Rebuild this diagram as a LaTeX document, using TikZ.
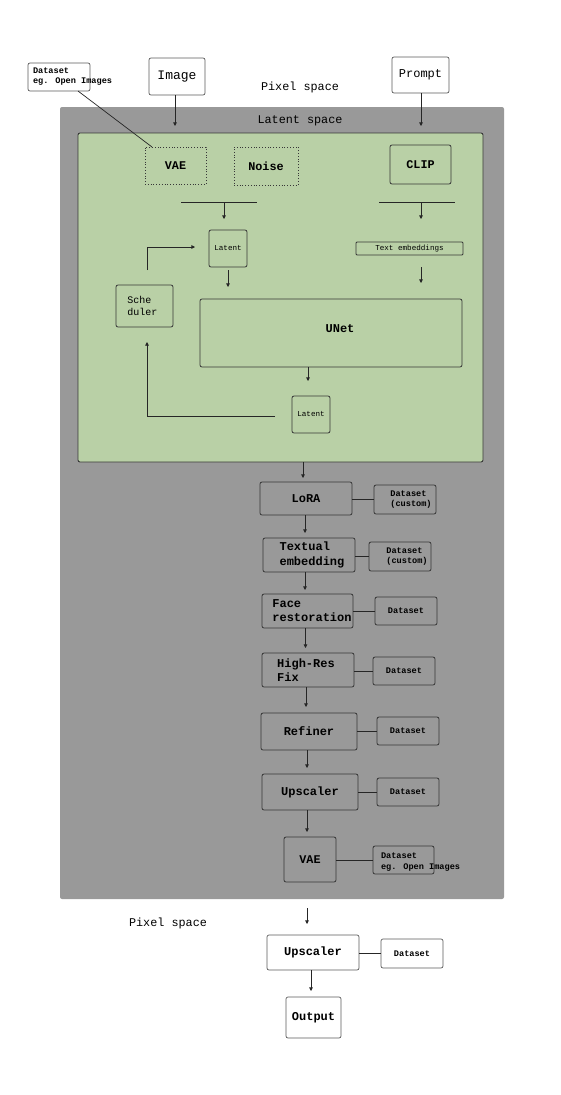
\documentclass[tikz,border=0pt]{standalone}
\usepackage{fontspec}
\setmainfont{Liberation Mono}
\usetikzlibrary{arrows.meta}
\definecolor{bggray}{RGB}{153,153,153}
\definecolor{bggreen}{RGB}{185,208,166}
\definecolor{edgedark}{RGB}{55,55,55}
\definecolor{edgelight}{RGB}{90,90,90}
\tikzset{
  x=1pt,y=-1pt,
  every node/.style={inner sep=0pt,outer sep=0pt},
  wbox/.style={draw=edgelight,fill=white,rounded corners=2pt,line width=0.7pt},
  gbox/.style={draw=edgedark,rounded corners=2pt,line width=0.8pt},
  dbox/.style={draw=edgedark,dotted,line width=0.8pt},
  big/.style={font=\bfseries\fontsize{12}{14.5}\selectfont,align=left},
  reg/.style={font=\fontsize{12}{14}\selectfont,align=left},
  small/.style={font=\bfseries\fontsize{8.6}{10.2}\selectfont,align=left},
  tiny/.style={font=\fontsize{7.6}{9}\selectfont,align=left},
  conn/.style={draw=black!85,line width=0.7pt},
  arr/.style={conn,-{Triangle[length=3.6pt,width=3.6pt]}},
}
\newcommand\boxat[7]{\node[#1,minimum width={(#4)-(#2)},minimum height={(#5)-(#3)}] (#6) at ({((#2)+(#4))/2},{((#3)+(#5))/2}) {#7};}
\begin{document}
\begin{tikzpicture}
\useasboundingbox (0,0) rectangle (561,1095);
% backgrounds
\boxat{fill=bggray,rounded corners=2pt}{60}{107}{504}{899}{latent}{}
\boxat{fill=bggreen,draw=edgedark,line width=0.9pt,rounded corners=2pt}{78}{133}{483}{462}{green}{}
% space labels
\node[reg,font=\fontsize{11.8}{13}\selectfont] (px1) at (300,87) {Pixel space};
\node[reg,font=\fontsize{11.8}{13}\selectfont] (ls) at (300,121) {Latent space};
\node[reg,font=\fontsize{11.8}{13}\selectfont] (px2) at (168,923) {Pixel space};
% top boxes
\boxat{wbox}{28}{63}{90}{91}{ds0}{}
\node[small,anchor=west] (ds0t) at (33,76.5) {Dataset\\eg. Open Images};
\boxat{wbox}{149}{58}{205}{95}{img}{\fontsize{13}{14}\selectfont Image}
\boxat{wbox}{392}{57}{449}{93}{prompt}{\fontsize{12}{14}\selectfont Prompt}
% green region
\boxat{dbox}{145}{147}{206}{184}{vae}{\bfseries\fontsize{11.8}{13}\selectfont VAE}
\boxat{dbox}{234}{147}{298}{185}{noise}{\bfseries\fontsize{11.8}{13}\selectfont Noise}
\boxat{gbox}{390}{145}{451}{184}{clip}{\bfseries\fontsize{11.8}{13}\selectfont CLIP}
\boxat{gbox}{209}{230}{247}{267}{lat1}{\fontsize{7.6}{9}\selectfont Latent}
\boxat{gbox,rounded corners=1pt}{356}{242}{463}{255}{temb}{\fontsize{7.6}{9}\selectfont Text embeddings}
\boxat{gbox}{116}{285}{173}{327}{sched}{}
\node[align=left,font=\fontsize{10}{12}\selectfont] (schedt) at (142.5,306) {Sche\\duler};
\boxat{gbox}{200}{299}{462}{367}{unet}{}
\node[font=\bfseries\fontsize{12}{14}\selectfont] (unett) at (340,329) {UNet};
\boxat{gbox}{292}{396}{330}{433}{lat2}{\fontsize{7.6}{9}\selectfont Latent}
% pipeline
\boxat{gbox}{260}{482}{352}{515}{lora}{\makebox[0pt]{}\bfseries\fontsize{12}{14.5}\selectfont LoRA}
\boxat{gbox}{374}{485}{436}{514}{d1}{}
\node[small] (d1t) at (411,499.5) {Dataset\\(custom)};
\boxat{gbox}{263}{538}{355}{572}{te}{}
\node[big] (tet) at (312,555) {Textual\\embedding};
\boxat{gbox}{369}{542}{431}{571}{d2}{}
\node[small] (d2t) at (407,556.5) {Dataset\\(custom)};
\boxat{gbox}{262}{594}{353}{628}{fr}{}
\node[big] (frt) at (312,610.5) {Face\\restoration};
\boxat{gbox}{375}{597}{437}{625}{d3}{\bfseries\fontsize{8.6}{10}\selectfont Dataset}
\boxat{gbox}{262}{653}{354}{687}{hr}{}
\node[big] (hrt) at (306,670) {High-Res\\Fix};
\boxat{gbox}{373}{657}{435}{685}{d4}{\bfseries\fontsize{8.6}{10}\selectfont Dataset}
\boxat{gbox}{261}{713}{357}{750}{rf}{\bfseries\fontsize{12}{14}\selectfont Refiner}
\boxat{gbox}{377}{717}{439}{745}{d5}{\bfseries\fontsize{8.6}{10}\selectfont Dataset}
\boxat{gbox}{262}{774}{358}{810}{up}{\bfseries\fontsize{12}{14}\selectfont Upscaler}
\boxat{gbox}{377}{778}{439}{806}{d6}{\bfseries\fontsize{8.6}{10}\selectfont Dataset}
\boxat{gbox}{284}{837}{336}{882}{vae2}{\bfseries\fontsize{11.8}{13}\selectfont VAE}
\boxat{gbox}{373}{846}{434}{874}{d7}{}
\node[small,anchor=west] (d7t) at (381,862) {Dataset\\eg. Open Images};
% bottom pixel space
\boxat{wbox}{267}{935}{359}{970}{up2}{\bfseries\fontsize{12}{14}\selectfont Upscaler}
\boxat{wbox}{381}{939}{443}{968}{d8}{\bfseries\fontsize{8.6}{10}\selectfont Dataset}
\boxat{wbox}{286}{997}{341}{1038}{out}{\bfseries\fontsize{12}{14}\selectfont Output}
% coordinates
\coordinate (imgin) at (175,126);
\coordinate (prin) at (421,126);
\coordinate (dsv) at (152,147);
\coordinate (tl1) at (181,202); \coordinate (tl2) at (257,202);
\coordinate (tlm) at (224,202); \coordinate (tla) at (224,219);
\coordinate (tr1) at (379,202); \coordinate (tr2) at (455,202);
\coordinate (trm) at (421,202); \coordinate (tra) at (421,219);
\coordinate (lat1s) at (228,270); \coordinate (lat1a) at (228,287);
\coordinate (tembs) at (421,267); \coordinate (temba) at (421,283);
\coordinate (sc1) at (147,270); \coordinate (sc2) at (147,247); \coordinate (sc3) at (195,247);
\coordinate (un1) at (308,367); \coordinate (un2) at (308,381);
\coordinate (fb1) at (275,416); \coordinate (fb2) at (147,416); \coordinate (fb3) at (147,342);
\coordinate (gr1) at (303,462); \coordinate (gr2) at (303,478);
\coordinate (ex1) at (307,908); \coordinate (ex2) at (307,924);
% connectors top
\draw[arr] (img.south -| imgin) -- (imgin);
\draw[arr] (prompt.south -| prin) -- (prin);
\draw[conn] (ds0.south east) ++(-12,0) coordinate (dss) -- (dsv);
\draw[conn] (tl1) -- (tl2);
\draw[arr] (tlm) -- (tla);
\draw[conn] (tr1) -- (tr2);
\draw[arr] (trm) -- (tra);
\draw[arr] (lat1s) -- (lat1a);
\draw[arr] (tembs) -- (temba);
\draw[arr] (sc1) -- (sc2) -- (sc3);
\draw[arr] (un1) -- (un2);
\draw[arr] (fb1) -- (fb2) -- (fb3);
\draw[arr] (gr1) -- (gr2);
% pipeline arrows
\draw[arr] ([xshift=-1pt]lora.south) -- ([xshift=-1pt]lora.south |- te.north) [shorten >=5pt];
\draw[arr,shorten >=4pt] ([xshift=-4pt]te.south) -- ([xshift=-4pt]te.south |- fr.north);
\draw[arr,shorten >=5pt] ([xshift=-2pt]fr.south) -- ([xshift=-2pt]fr.south |- hr.north);
\draw[arr,shorten >=6pt] ([xshift=-2pt]hr.south) -- ([xshift=-2pt]hr.south |- rf.north);
\draw[arr,shorten >=6pt] ([xshift=-2pt]rf.south) -- ([xshift=-2pt]rf.south |- up.north);
\draw[arr,shorten >=5pt] ([xshift=-3pt]up.south) -- ([xshift=-3pt]up.south |- vae2.north);
\draw[arr] (ex1) -- (ex2);
\draw[arr,shorten >=6pt] ([xshift=-2pt]up2.south) -- ([xshift=-2pt]up2.south |- out.north);
% dataset links
\draw[conn] (lora.east |- 0,499) -- (d1.west |- 0,499);
\draw[conn] (te.east |- 0,556) -- (d2.west |- 0,556);
\draw[conn] (fr.east |- 0,611) -- (d3.west |- 0,611);
\draw[conn] (hr.east |- 0,671) -- (d4.west |- 0,671);
\draw[conn] (rf.east |- 0,731) -- (d5.west |- 0,731);
\draw[conn] (up.east |- 0,792) -- (d6.west |- 0,792);
\draw[conn] (vae2.east |- 0,860) -- (d7.west |- 0,860);
\draw[conn] (up2.east |- 0,953) -- (d8.west |- 0,953);
\end{tikzpicture}
\end{document}
